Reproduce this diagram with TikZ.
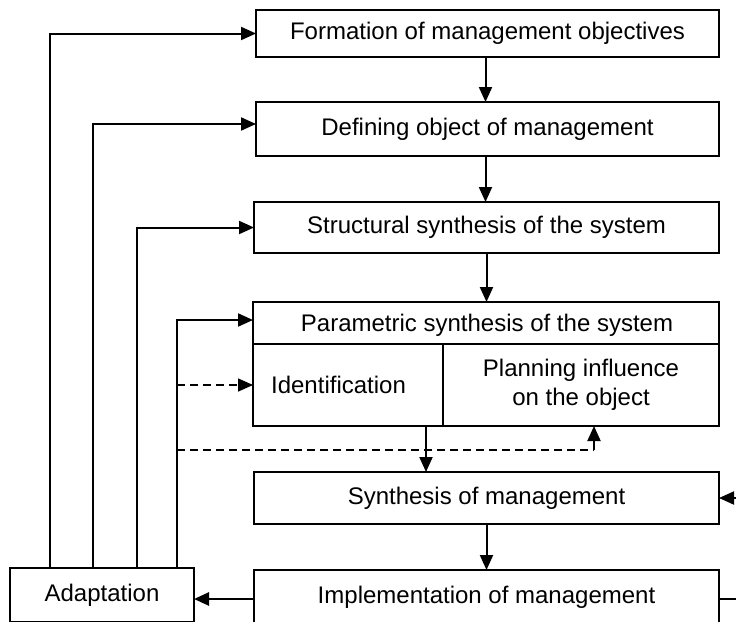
\documentclass[tikz,border=0pt]{standalone}
\usepackage{fontspec}
\setmainfont{Liberation Sans}
\usetikzlibrary{arrows.meta}
\begin{document}
\begin{tikzpicture}[x=1pt,y=-1pt,
  box/.style={draw, line width=1.8pt, inner sep=0pt, outer sep=0pt, align=center,
    font=\fontsize{24}{28.5}\selectfont},
  lbl/.style={inner sep=0pt, outer sep=0pt, align=center, font=\fontsize{24}{28.5}\selectfont},
  arr/.style={line width=2pt, -{Triangle[length=15pt,width=13pt]}},
  darr/.style={line width=1.6pt, dash pattern=on 8pt off 5pt, -{Triangle[length=15pt,width=13pt]}},
  dline/.style={line width=1.3pt, dash pattern=on 8pt off 5pt}]
\clip (0,0) rectangle (736,621);
\fill[white] (0,0) rectangle (736,621);
% boxes
\node[box, minimum width=463pt, minimum height=47pt] (b1) at (487.5,33.5) {Formation of management objectives};
\node[box, minimum width=463pt, minimum height=54pt] (b2) at (487.5,129) {Defining object of management};
\node[box, minimum width=465pt, minimum height=51pt] (b3) at (486.5,227.5) {Structural synthesis of the system};
\node[box, minimum width=466pt, minimum height=42pt] (b4) at (486,323) {};
\node[lbl] (b4t) at (487,325) {Parametric synthesis of the system};
\node[box, minimum width=190pt, minimum height=82pt] (ident) at (348,385) {};
\node[lbl] (identt) at (338.5,385) {Identification};
\node[box, minimum width=276pt, minimum height=82pt] (plan) at (581,385) {Planning influence\\on the object};
\node[box, minimum width=465pt, minimum height=52pt] (b5) at (486.5,498) {Synthesis of management};
\node[box, minimum width=465pt, minimum height=54pt] (b6) at (486.5,597) {Implementation of management};
\node[box, minimum width=184pt, minimum height=54pt] (adapt) at (102,595) {Adaptation};
% vertical flow
\draw[arr] ([xshift=-2pt]b1.south) -- ([xshift=-2pt]b1.south |- b2.north);
\draw[arr] ([xshift=-2pt]b2.south) -- ([xshift=-2pt]b2.south |- b3.north);
\draw[arr] (b3.south) -- (b3.south |- b4.north);
\draw[arr] ([xshift=78pt]ident.south) -- ([xshift=78pt]ident.south |- b5.north);
\draw[arr] (b5.south) -- (b5.south |- b6.north);
% feedback from adaptation
\draw[arr] ([xshift=40pt]adapt.north west) |- (b1.west);
\draw[arr] ([xshift=83pt]adapt.north west) |- ([yshift=5pt]b2.west);
\draw[arr] ([xshift=127pt]adapt.north west) |- (b3.west);
\draw[arr] ([xshift=167pt]adapt.north west) |- ([yshift=3pt]b4.west);
\coordinate (istart) at (177,385);
\coordinate (dstart) at (177,450);
\draw[darr] (istart) -- (ident.west);
\draw[dline] (dstart) -| ([xshift=13pt]plan.south |- dstart);
\draw[arr] ([xshift=13pt]plan.south |- dstart) -- ([xshift=13pt]plan.south);
% implementation -> adaptation
\draw[arr, line width=2.6pt] ([yshift=-2pt]b6.west) -- ([yshift=-2pt]b6.west -| adapt.east);
% right side loop (partially visible)
\coordinate (rin) at (745,498);
\coordinate (rout) at (745,599);
\draw[arr] (rin) -- (b5.east);
\draw[line width=1.8pt] ([yshift=-2pt]b6.east) -- (rout);
\end{tikzpicture}
\end{document}
